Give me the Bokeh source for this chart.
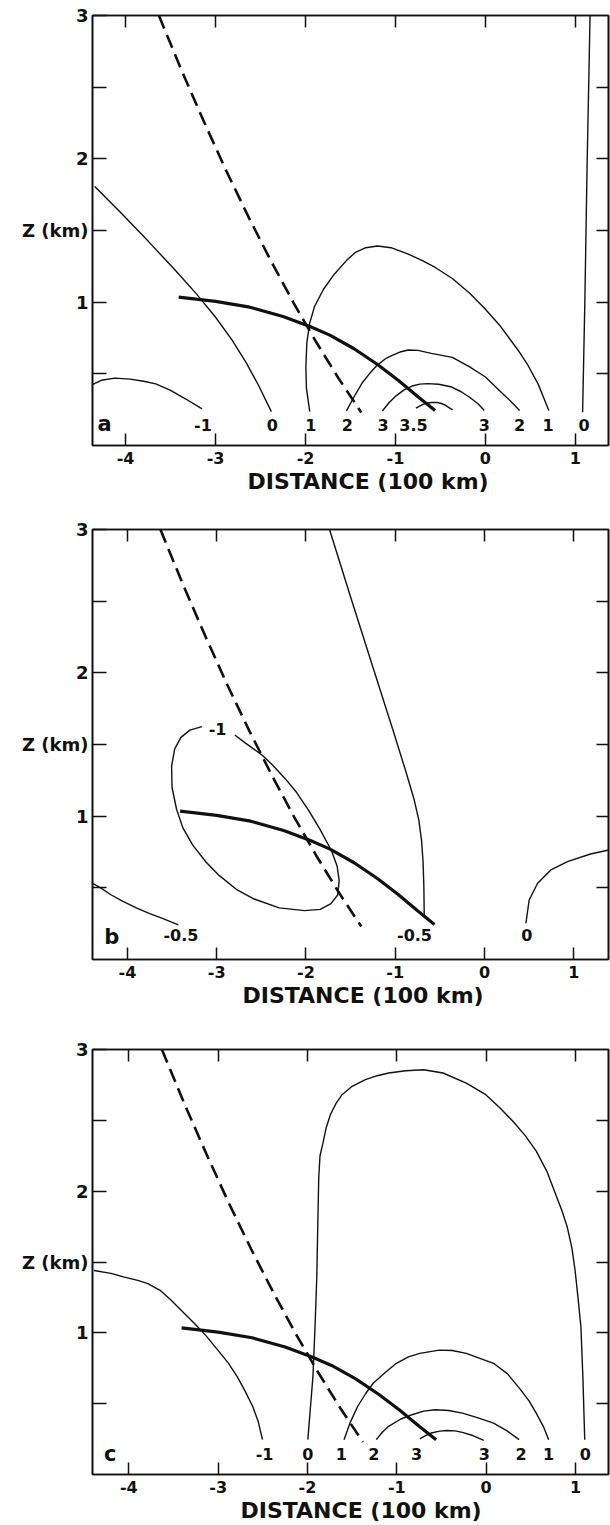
from bokeh.plotting import figure
from bokeh.models import LinearAxis, FixedTicker, Label, Range1d, Title
from bokeh.layouts import column
from bokeh.embed import file_html
from bokeh.resources import INLINE
from bokeh.core.properties import value

# ---------------------------------------------------------------- axes
X_TICKS = [-4, -3, -2, -1, 0, 1]
X_TICK_TEXT = {-4: "-4", -3: "-3", -2: "-2", -1: "-1", 0: "0", 1: "1"}
Z_TICKS = [1, 1.5, 2, 3]                  # labelled heights
Z_TICK_TEXT = {1: "1", 1.5: "Z (km)", 2: "2", 3: "3"}
Z_MINOR = [0.5, 2.5]                      # unlabelled heights
Z_RIGHT = [0.5, 1, 1.5, 2, 2.5]           # ticks on the right-hand frame
X_TITLE = "DISTANCE (100 km)"

# ---------------------------------------------------------------- lines common to all panels
# sloping frontal surface (dashed)
FRONT_X = [-3.63, -3.38, -3.13, -2.88, -2.63, -2.38, -2.13, -1.88, -1.63, -1.38]
FRONT_Z = [3.00, 2.62, 2.26, 1.915, 1.59, 1.282, 0.992, 0.72, 0.466, 0.23]
# top of the boundary layer (heavy line)
BL_X = [-3.41, -3.00, -2.62, -2.25, -1.95, -1.73, -1.46, -1.20, -0.97, -0.75, -0.56]
BL_Z = [1.035, 1.005, 0.965, 0.90, 0.83, 0.77, 0.675, 0.565, 0.455, 0.34, 0.245]

# ---------------------------------------------------------------- panel a
A_M1_X = [-4.37, -4.27, -4.12, -3.95, -3.80, -3.665, -3.50, -3.335, -3.15]
A_M1_Z = [0.425, 0.455, 0.47, 0.463, 0.448, 0.43, 0.385, 0.326, 0.256]
A_0L_X = [-4.343, -4.05, -3.75, -3.45, -3.21, -3.00, -2.82, -2.66, -2.52, -2.38]
A_0L_Z = [1.807, 1.622, 1.426, 1.224, 1.056, 0.895, 0.739, 0.578, 0.417, 0.236]
A_1_X = [-1.953, -1.99, -1.996, -1.985, -1.955, -1.90, -1.80, -1.68, -1.545, -1.45,
         -1.33, -1.20, -1.05, -0.858, -0.70, -0.558, -0.368, -0.172, 0.0, 0.172,
         0.365, 0.472, 0.585, 0.705]
A_1_Z = [0.237, 0.40, 0.55, 0.72, 0.85, 0.97, 1.09, 1.195, 1.29, 1.345,
         1.38, 1.392, 1.38, 1.335, 1.29, 1.242, 1.165, 1.06, 0.95, 0.828,
         0.663, 0.56, 0.43, 0.244]
A_2_X = [-1.545, -1.46, -1.373, -1.29, -1.202, -1.10, -1.03, -0.95, -0.858, -0.75,
         -0.601, -0.368, -0.18, 0.0, 0.129, 0.27, 0.38]
A_2_Z = [0.241, 0.34, 0.434, 0.50, 0.561, 0.61, 0.631, 0.652, 0.666, 0.664,
         0.643, 0.615, 0.55, 0.478, 0.40, 0.315, 0.244]
A_3_X = [-1.146, -1.07, -0.987, -0.90, -0.815, -0.73, -0.644, -0.52, -0.386, -0.27,
         -0.172, -0.08, -0.013]
A_3_Z = [0.241, 0.30, 0.35, 0.39, 0.415, 0.428, 0.432, 0.427, 0.41, 0.375,
         0.335, 0.29, 0.244]
A_35_X = [-0.773, -0.70, -0.644, -0.59, -0.536, -0.49, -0.451, -0.41, -0.365]
A_35_Z = [0.26, 0.285, 0.297, 0.30, 0.30, 0.293, 0.283, 0.266, 0.248]
A_0R_X = [1.08, 1.105, 1.13, 1.163]
A_0R_Z = [0.232, 1.0, 1.95, 3.0]
A_LABELS = ["-1", "0", "1", "2", "3", "3.5", "3", "2", "1", "0"]
A_LABEL_X = [-3.14, -2.37, -1.94, -1.536, -1.137, -0.80, -0.013, 0.38, 0.695, 1.097]

# ---------------------------------------------------------------- panel b
B_M05L_X = [-4.40, -4.30, -4.18, -4.05, -3.90, -3.75, -3.60, -3.43]
B_M05L_Z = [0.535, 0.50, 0.45, 0.405, 0.36, 0.32, 0.285, 0.241]
B_M1_X = [-3.165, -3.30, -3.40, -3.47, -3.505, -3.50, -3.45, -3.38, -3.27, -3.12,
          -2.97, -2.78, -2.58, -2.30, -2.017, -1.84, -1.72, -1.645, -1.628, -1.65,
          -1.714, -1.844, -1.97, -2.104, -2.23, -2.364, -2.48, -2.58, -2.70, -2.797]
B_M1_Z = [1.625, 1.60, 1.55, 1.47, 1.35, 1.20, 1.05, 0.92, 0.80, 0.68,
          0.585, 0.49, 0.422, 0.36, 0.341, 0.35, 0.39, 0.45, 0.55, 0.65,
          0.759, 0.91, 1.04, 1.165, 1.26, 1.35, 1.42, 1.466, 1.52, 1.566]
B_M05R_X = [-1.736, -1.49, -1.24, -1.03, -0.88, -0.79, -0.735, -0.705, -0.688, -0.679, -0.675]
B_M05R_Z = [3.0, 2.51, 2.02, 1.61, 1.31, 1.12, 0.97, 0.83, 0.68, 0.50, 0.30]
B_0_X = [0.464, 0.50, 0.595, 0.743, 0.929, 1.188, 1.392]
B_0_Z = [0.253, 0.415, 0.532, 0.625, 0.683, 0.736, 0.764]
B_LABELS = ["-0.5", "-1", "-0.5", "0"]
B_LABEL_X = [-3.40, -2.99, -0.784, 0.475]
B_LABEL_Z = [0.17, 1.61, 0.17, 0.17]

# ---------------------------------------------------------------- panel c
C_M1_X = [-4.39, -4.20, -4.05, -3.90, -3.787, -3.65, -3.526, -3.40, -3.265, -3.13,
          -3.004, -2.89, -2.787, -2.70, -2.613, -2.55, -2.504]
C_M1_Z = [1.44, 1.42, 1.393, 1.37, 1.347, 1.30, 1.23, 1.15, 1.066, 0.975,
          0.878, 0.79, 0.691, 0.59, 0.48, 0.37, 0.246]
C_0_X = [-1.996, -1.97, -1.939, -1.915, -1.896, -1.885, -1.874, -1.86, -1.83, -1.79,
         -1.743, -1.68, -1.613, -1.50, -1.352, -1.22, -1.091, -0.90, -0.70, -0.483,
         -0.222, -0.004, 0.15, 0.30, 0.44, 0.561, 0.68, 0.778, 0.85, 0.909,
         0.96, 0.996, 1.03, 1.061, 1.083, 1.104]
C_0_Z = [0.246, 0.45, 0.691, 1.05, 1.393, 1.75, 2.096, 2.25, 2.33, 2.45,
         2.541, 2.62, 2.681, 2.74, 2.787, 2.815, 2.834, 2.85, 2.857, 2.834,
         2.763, 2.681, 2.59, 2.494, 2.39, 2.283, 2.14, 1.979, 1.86, 1.745,
         1.60, 1.44, 1.24, 1.042, 0.691, 0.246]
C_1_X = [-1.591, -1.52, -1.439, -1.35, -1.265, -1.13, -1.004, -0.87, -0.743, -0.526,
         -0.38, -0.222, 0.083, 0.24, 0.387, 0.48, 0.561, 0.64, 0.70]
C_1_Z = [0.246, 0.37, 0.48, 0.57, 0.644, 0.72, 0.785, 0.83, 0.855, 0.878,
         0.875, 0.855, 0.785, 0.71, 0.597, 0.52, 0.433, 0.34, 0.246]
C_2_X = [-1.23, -1.16, -1.091, -0.96, -0.83, -0.70, -0.57, -0.42, -0.265, -0.09,
         0.083, 0.23, 0.37]
C_2_Z = [0.246, 0.30, 0.34, 0.39, 0.422, 0.447, 0.457, 0.452, 0.433, 0.40,
         0.363, 0.31, 0.246]
C_3_X = [-0.743, -0.68, -0.613, -0.52, -0.439, -0.35, -0.265, -0.15, -0.026]
C_3_Z = [0.251, 0.275, 0.293, 0.306, 0.311, 0.308, 0.297, 0.275, 0.241]
C_LABELS = ["-1", "0", "1", "2", "3", "3", "2", "1", "0"]
C_LABEL_X = [-2.48, -1.996, -1.62, -1.257, -0.778, -0.02, 0.39, 0.70, 1.11]

FONT = "DejaVu Sans"
INK = "#111111"


def style_line(ax):
    ax.axis_line_color = INK
    ax.axis_line_width = 1.6
    ax.major_tick_line_color = INK
    ax.major_tick_line_width = 1.5
    ax.minor_tick_line_color = INK
    ax.minor_tick_line_width = 1.5


def tick_only_axis(ticks, length):
    # frame side carrying inward ticks and no labels
    ax = LinearAxis(ticker=FixedTicker(ticks=[], minor_ticks=ticks),
                    major_tick_in=0, major_tick_out=0,
                    minor_tick_in=length, minor_tick_out=0,
                    major_label_standoff=0)
    style_line(ax)
    return ax


def make_panel(width, height, borders, xr, letter, letter_xy, title_offset):
    left, right, top, bottom = borders
    p = figure(width=width, height=height, output_backend="svg", toolbar_location=None,
               x_range=Range1d(*xr), y_range=Range1d(0, 3),
               min_border_left=left, min_border_right=right,
               min_border_top=top, min_border_bottom=bottom)
    p.grid.visible = False
    p.outline_line_color = INK
    p.outline_line_width = 1.6
    p.background_fill_color = "white"
    p.border_fill_color = "white"

    xa = p.xaxis[0]
    xa.ticker = FixedTicker(ticks=X_TICKS)
    xa.major_label_overrides = X_TICK_TEXT
    xa.major_tick_in = 12
    xa.major_tick_out = 0
    xa.minor_tick_in = 0
    xa.minor_tick_out = 0
    xa.major_label_standoff = 6
    xa.major_label_text_font = FONT
    xa.major_label_text_font_style = "bold"
    xa.major_label_text_font_size = "16px"
    xa.major_label_text_color = INK
    style_line(xa)

    ya = p.yaxis[0]
    ya.ticker = FixedTicker(ticks=Z_TICKS, minor_ticks=Z_MINOR)
    ya.major_label_overrides = Z_TICK_TEXT
    ya.major_tick_in = 14
    ya.major_tick_out = 0
    ya.minor_tick_in = 14
    ya.minor_tick_out = 0
    ya.major_label_standoff = 4
    ya.major_label_text_font = FONT
    ya.major_label_text_font_style = "bold"
    ya.major_label_text_font_size = "18px"
    ya.major_label_text_color = INK
    style_line(ya)

    p.add_layout(tick_only_axis(X_TICKS, 12), "above")
    p.add_layout(tick_only_axis(Z_RIGHT, 12), "right")

    p.add_layout(Title(text=X_TITLE, align="left", offset=title_offset,
                       text_font=FONT, text_font_style="bold",
                       text_font_size="22px", text_color=INK, standoff=0), "below")
    p.add_layout(Label(x=letter_xy[0], y=letter_xy[1], text=letter,
                       text_align="center", text_baseline="middle",
                       text_font=FONT, text_font_style="bold",
                       text_font_size="21px", text_color=INK))
    return p


def shared_lines(p):
    p.line(FRONT_X, FRONT_Z, line_color=INK, line_width=2.6, line_dash="14 7")
    p.line(BL_X, BL_Z, line_color=INK, line_width=3.2)


def contour(p, xs, zs):
    p.line(xs, zs, line_color=INK, line_width=1.4)


def contour_labels(p, texts, xs, zs):
    p.text(x=xs, y=zs, text=texts, text_align="center", text_baseline="middle",
           text_font=value(FONT), text_font_style="bold", text_font_size="16px",
           text_color=INK)


# panel a
pa = make_panel(610, 500, (86, 2, 15, 55), (-4.368, 1.368), "a", (-4.233, 0.151), 155)
shared_lines(pa)
for xs, zs in [(A_M1_X, A_M1_Z), (A_0L_X, A_0L_Z), (A_1_X, A_1_Z), (A_2_X, A_2_Z),
               (A_3_X, A_3_Z), (A_35_X, A_35_Z), (A_0R_X, A_0R_Z)]:
    contour(pa, xs, zs)
contour_labels(pa, A_LABELS, A_LABEL_X, [0.14] * len(A_LABELS))

# panel b
pb = make_panel(610, 510, (89, 2, 29, 51), (-4.391, 1.389), "b", (-4.176, 0.159), 150)
shared_lines(pb)
for xs, zs in [(B_M05L_X, B_M05L_Z), (B_M1_X, B_M1_Z), (B_M05R_X, B_M05R_Z), (B_0_X, B_0_Z)]:
    contour(pb, xs, zs)
contour_labels(pb, B_LABELS, B_LABEL_X, B_LABEL_Z)

# panel c
pc = make_panel(610, 515, (92, 1, 39, 51), (-4.407, 1.370), "c", (-4.209, 0.146), 148)
shared_lines(pc)
for xs, zs in [(C_M1_X, C_M1_Z), (C_0_X, C_0_Z), (C_1_X, C_1_Z), (C_2_X, C_2_Z), (C_3_X, C_3_Z)]:
    contour(pc, xs, zs)
contour_labels(pc, C_LABELS, C_LABEL_X, [0.146] * len(C_LABELS))

layout = column(pa, pb, pc, spacing=0)
open("out.html", "w").write(file_html(layout, INLINE))
